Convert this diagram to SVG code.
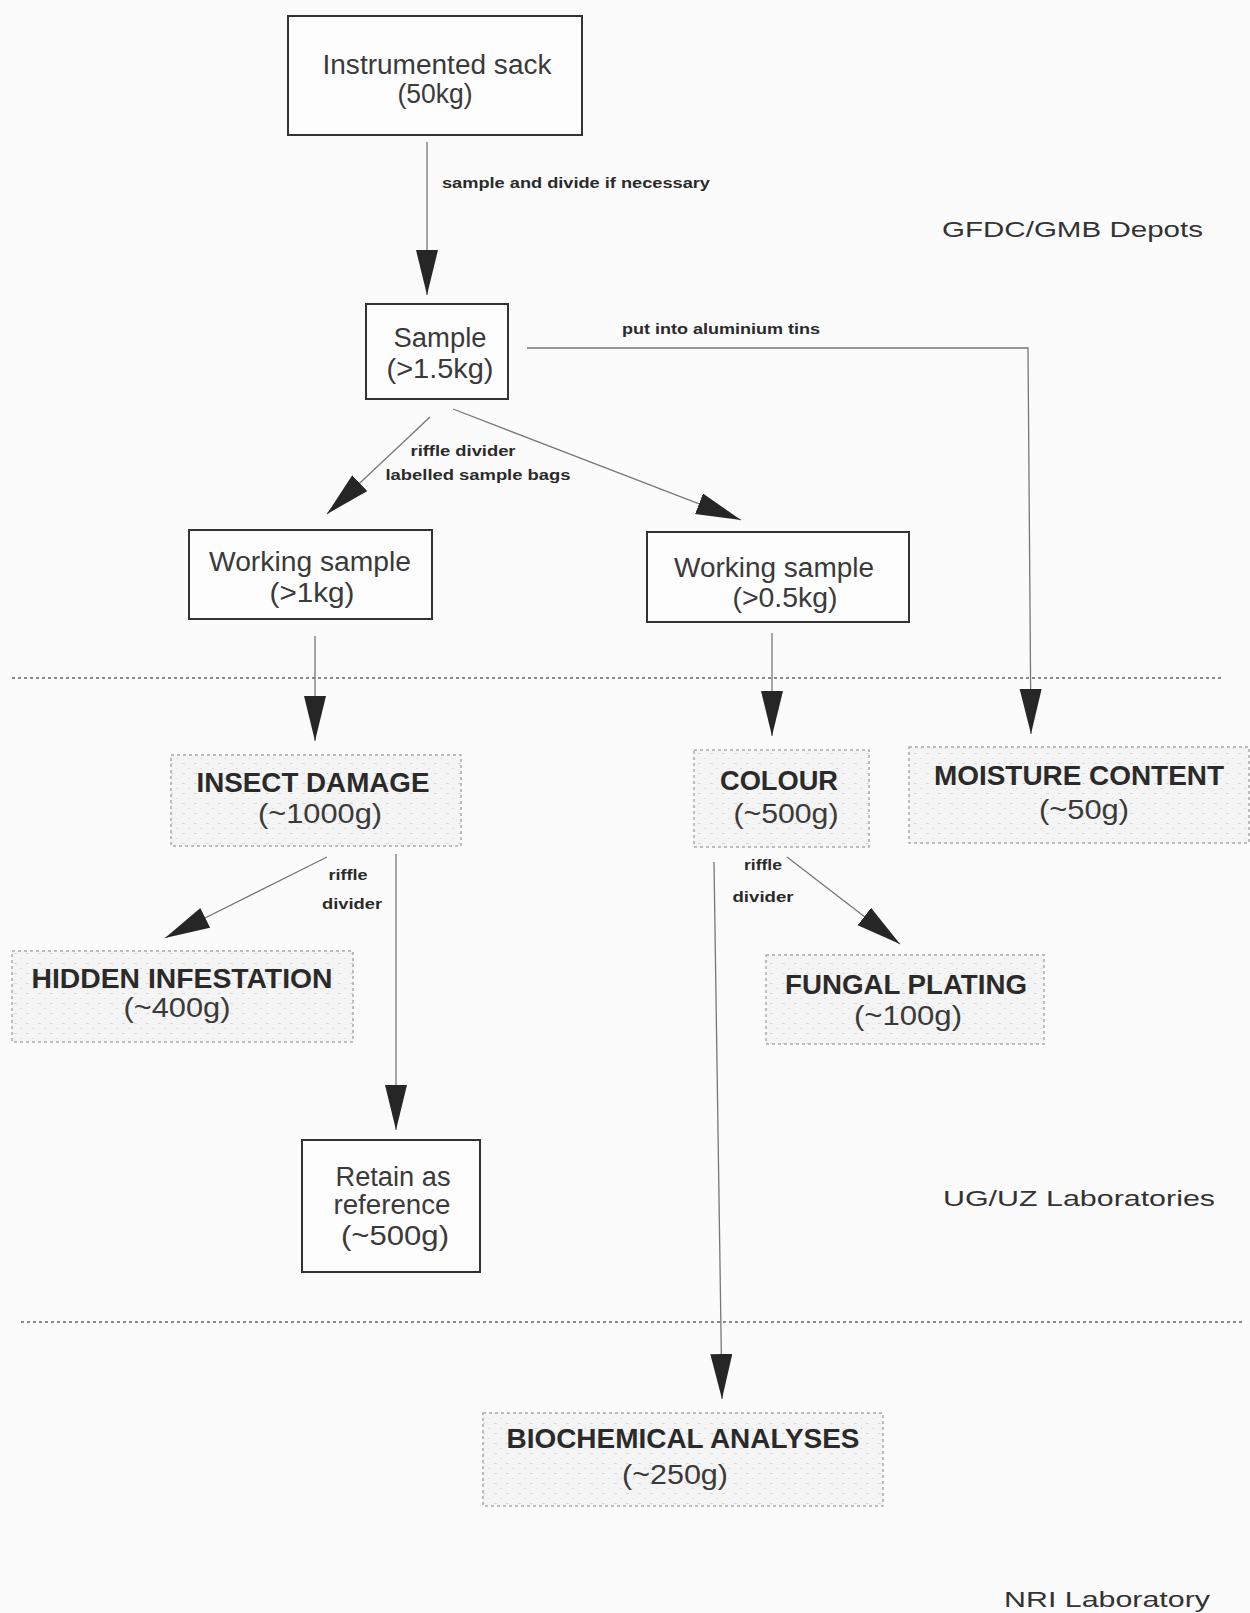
<svg xmlns="http://www.w3.org/2000/svg" width="1250" height="1613" viewBox="0 0 1250 1613">
<defs>
<style>
.bg{fill:#fbfbfb}
.box{fill:#fdfdfd;stroke:#333;stroke-width:2}
.sbox{fill:url(#dots);stroke:#aaa;stroke-width:1.5;stroke-dasharray:3 3}
.t{font-family:"Liberation Sans",Arial,sans-serif;font-size:27px;fill:#3a3a3a;text-anchor:middle}
.tb{font-family:"Liberation Sans",Arial,sans-serif;font-size:27px;font-weight:bold;fill:#2a2a2a;text-anchor:middle}
.s{font-family:"Liberation Sans",Arial,sans-serif;font-size:14px;font-weight:bold;fill:#2a2a2a;text-anchor:middle}
.r{font-family:"Liberation Sans",Arial,sans-serif;font-size:22px;fill:#333;text-anchor:start}
.c{fill:none;stroke:#777;stroke-width:1.3}
.sep{fill:none;stroke:#666;stroke-width:1.5;stroke-dasharray:3 3}
</style>
<pattern id="dots" width="12" height="10" patternUnits="userSpaceOnUse">
<rect width="12" height="10" fill="#f4f4f4"/>
<rect x="2" y="3" width="3" height="1" fill="#d8d8d8"/>
<rect x="8" y="8" width="2" height="1" fill="#e0e0e0"/>
</pattern>
<marker id="ah" markerUnits="userSpaceOnUse" markerWidth="46" markerHeight="24" refX="45" refY="11" orient="auto">
<path d="M0,0 L45,11 L0,22 z" fill="#262626"/>
</marker>
</defs>
<rect class="bg" x="0" y="0" width="1250" height="1613"/>

<g id="separators">
<line class="sep" x1="12" y1="678" x2="1224" y2="678"/>
<line class="sep" x1="21" y1="1322" x2="1245" y2="1322"/>
</g>

<g id="connectors">
<line class="c" x1="427" y1="142" x2="427" y2="295" marker-end="url(#ah)"/>
<polyline class="c" points="527,348 1028,348 1031,734" marker-end="url(#ah)"/>
<line class="c" x1="430" y1="417" x2="327" y2="514" marker-end="url(#ah)"/>
<line class="c" x1="453" y1="409" x2="741" y2="520" marker-end="url(#ah)"/>
<line class="c" x1="315" y1="636" x2="315" y2="741" marker-end="url(#ah)"/>
<line class="c" x1="772" y1="633" x2="772" y2="736" marker-end="url(#ah)"/>
<line class="c" x1="327" y1="857" x2="165" y2="938" marker-end="url(#ah)"/>
<line class="c" x1="396" y1="854" x2="396" y2="1130" marker-end="url(#ah)"/>
<line class="c" x1="787" y1="857" x2="900" y2="944" marker-end="url(#ah)"/>
<line class="c" x1="714" y1="862" x2="722" y2="1399" marker-end="url(#ah)"/>
<text class="s" x="576" y="188" textLength="268" lengthAdjust="spacingAndGlyphs">sample and divide if necessary</text>
<text class="s" x="721" y="334" textLength="198" lengthAdjust="spacingAndGlyphs">put into aluminium tins</text>
<text class="s" x="463" y="456" textLength="105" lengthAdjust="spacingAndGlyphs">riffle divider</text>
<text class="s" x="478" y="480" textLength="185" lengthAdjust="spacingAndGlyphs">labelled sample bags</text>
<text class="s" x="348" y="880" textLength="39" lengthAdjust="spacingAndGlyphs">riffle</text>
<text class="s" x="352" y="909" textLength="60" lengthAdjust="spacingAndGlyphs">divider</text>
<text class="s" x="763" y="870" textLength="38" lengthAdjust="spacingAndGlyphs">riffle</text>
<text class="s" x="763" y="902" textLength="61" lengthAdjust="spacingAndGlyphs">divider</text>
</g>

<g id="sack">
<rect class="box" x="288" y="16" width="294" height="119"/>
<text class="t" x="437" y="74" textLength="229" lengthAdjust="spacingAndGlyphs">Instrumented sack</text>
<text class="t" x="435" y="103" textLength="75" lengthAdjust="spacingAndGlyphs">(50kg)</text>
</g>

<g id="sample">
<rect class="box" x="366" y="304" width="142" height="95"/>
<text class="t" x="440" y="347" textLength="93" lengthAdjust="spacingAndGlyphs">Sample</text>
<text class="t" x="440" y="378" textLength="107" lengthAdjust="spacingAndGlyphs">(&gt;1.5kg)</text>
</g>

<g id="working1">
<rect class="box" x="189" y="530" width="243" height="89"/>
<text class="t" x="310" y="571" textLength="202" lengthAdjust="spacingAndGlyphs">Working sample</text>
<text class="t" x="312" y="602" textLength="85" lengthAdjust="spacingAndGlyphs">(&gt;1kg)</text>
</g>

<g id="working2">
<rect class="box" x="647" y="532" width="262" height="90"/>
<text class="t" x="774" y="577" textLength="200" lengthAdjust="spacingAndGlyphs">Working sample</text>
<text class="t" x="785" y="607" textLength="105" lengthAdjust="spacingAndGlyphs">(&gt;0.5kg)</text>
</g>

<g id="insect">
<rect class="sbox" x="171" y="755" width="290" height="91"/>
<text class="tb" x="313" y="792" textLength="233" lengthAdjust="spacingAndGlyphs">INSECT DAMAGE</text>
<text class="t" x="320" y="823" textLength="124" lengthAdjust="spacingAndGlyphs">(~1000g)</text>
</g>

<g id="colour">
<rect class="sbox" x="694" y="750" width="175" height="97"/>
<text class="tb" x="779" y="790" textLength="118" lengthAdjust="spacingAndGlyphs">COLOUR</text>
<text class="t" x="786" y="823" textLength="105" lengthAdjust="spacingAndGlyphs">(~500g)</text>
</g>

<g id="moisture">
<rect class="sbox" x="909" y="747" width="340" height="96"/>
<text class="tb" x="1079" y="785" textLength="290" lengthAdjust="spacingAndGlyphs">MOISTURE CONTENT</text>
<text class="t" x="1084" y="819" textLength="90" lengthAdjust="spacingAndGlyphs">(~50g)</text>
</g>

<g id="hidden">
<rect class="sbox" x="12" y="951" width="341" height="91"/>
<text class="tb" x="182" y="988" textLength="301" lengthAdjust="spacingAndGlyphs">HIDDEN INFESTATION</text>
<text class="t" x="177" y="1017" textLength="107" lengthAdjust="spacingAndGlyphs">(~400g)</text>
</g>

<g id="fungal">
<rect class="sbox" x="766" y="955" width="278" height="89"/>
<text class="tb" x="906" y="994" textLength="242" lengthAdjust="spacingAndGlyphs">FUNGAL PLATING</text>
<text class="t" x="908" y="1025" textLength="108" lengthAdjust="spacingAndGlyphs">(~100g)</text>
</g>

<g id="retain">
<rect class="box" x="302" y="1140" width="178" height="132"/>
<text class="t" x="393" y="1186" textLength="115" lengthAdjust="spacingAndGlyphs">Retain as</text>
<text class="t" x="392" y="1214" textLength="117" lengthAdjust="spacingAndGlyphs">reference</text>
<text class="t" x="395" y="1245" textLength="108" lengthAdjust="spacingAndGlyphs">(~500g)</text>
</g>

<g id="biochem">
<rect class="sbox" x="483" y="1413" width="400" height="93"/>
<text class="tb" x="683" y="1448" textLength="353" lengthAdjust="spacingAndGlyphs">BIOCHEMICAL ANALYSES</text>
<text class="t" x="675" y="1484" textLength="106" lengthAdjust="spacingAndGlyphs">(~250g)</text>
</g>

<g id="regions">
<text class="r" x="942" y="237" textLength="261" lengthAdjust="spacingAndGlyphs">GFDC/GMB Depots</text>
<text class="r" x="943" y="1206" textLength="272" lengthAdjust="spacingAndGlyphs">UG/UZ Laboratories</text>
<text class="r" x="1004" y="1607" textLength="206" lengthAdjust="spacingAndGlyphs">NRI Laboratory</text>
</g>
</svg>
